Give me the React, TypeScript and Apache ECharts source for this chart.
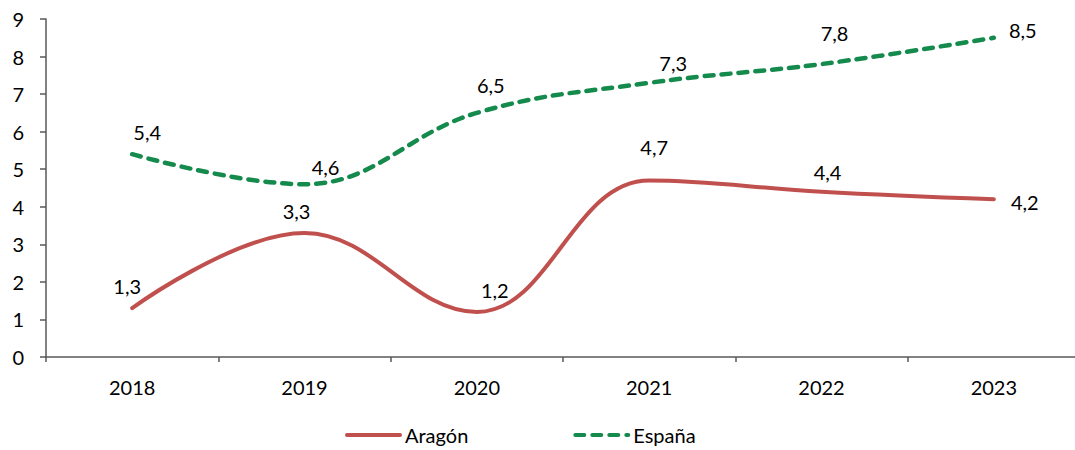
import React, { useEffect, useRef } from "react";
import * as echarts from "echarts";

const years = ["2018", "2019", "2020", "2021", "2022", "2023"];
const aragon = [1.3, 3.3, 1.2, 4.7, 4.4, 4.2];
const espana = [5.4, 4.6, 6.5, 7.3, 7.8, 8.5];
const aragonLabelOffsets = [[-5, -22], [-8, -22], [18, -22], [5, -33], [6, -20], [31, 3]];
const espanaLabelOffsets = [[15, -22], [21, -17], [14, -28], [24, -20], [13, -31], [29, -8]];

const FONT = "Lato";
const fmt = (v: number) => v.toFixed(1).replace(".", ",");

export default function App() {
  const ref = useRef<HTMLDivElement>(null);
  useEffect(() => {
    if (!ref.current) return;
    const chart = echarts.init(ref.current, undefined, { renderer: "svg" });
    const mk = (vals: number[], offs: number[][]) =>
      vals.map((v, i) => ({
        value: v,
        label: { offset: offs[i] },
      }));
    chart.setOption({
      animation: false,
      grid: { left: 46, right: 0, top: 19, bottom: 93 },
      legend: {
        left: 340,
        top: 420,
        itemWidth: 53,
        itemHeight: 22,
        itemGap: 105,
        textStyle: { fontFamily: FONT, fontSize: 20, color: "#000" },
        itemStyle: { opacity: 0 },
        lineStyle: { width: 4 },
        data: ["Aragón", "España"],
      },
      xAxis: {
        type: "category",
        data: years,
        boundaryGap: true,
        axisLine: { lineStyle: { color: "#595959", width: 1.5 } },
        axisTick: { show: true, length: 5, interval: 0, lineStyle: { color: "#595959", width: 1.5 } },
        axisLabel: { fontFamily: FONT, fontSize: 20, color: "#000", margin: 20 },
        splitLine: { show: false },
      },
      yAxis: {
        type: "value",
        min: 0,
        max: 9,
        interval: 1,
        axisLine: { show: true, lineStyle: { color: "#595959", width: 1.5 } },
        axisTick: { show: true, length: 6, lineStyle: { color: "#595959", width: 1.5 } },
        axisLabel: { fontFamily: FONT, fontSize: 20, color: "#000", margin: 22 },
        splitLine: { show: false },
      },
      series: [
        {
          name: "Aragón",
          type: "line",
          data: mk(aragon, aragonLabelOffsets),
          smooth: 0.4,
          symbol: "circle",
          symbolSize: 0,
          showSymbol: true,
          lineStyle: { color: "#C0504D", width: 4, cap: "round" },
          itemStyle: { color: "#C0504D" },
          label: {
            show: true,
            position: "inside",
            formatter: (p: any) => fmt(p.value),
            fontFamily: FONT,
            fontSize: 20,
            color: "#000",
          },
        },
        {
          name: "España",
          type: "line",
          data: mk(espana, espanaLabelOffsets),
          smooth: 0.4,
          symbol: "circle",
          symbolSize: 0,
          showSymbol: true,
          lineStyle: { color: "#148A4C", width: 4.5, type: [9, 8], cap: "round" },
          itemStyle: { color: "#148A4C" },
          label: {
            show: true,
            position: "inside",
            formatter: (p: any) => fmt(p.value),
            fontFamily: FONT,
            fontSize: 20,
            color: "#000",
          },
        },
      ],
    });
    return () => chart.dispose();
  }, []);
  return (
    <div style={{ position: "absolute", left: 0, top: 0, width: 1075, height: 450, overflow: "hidden", background: "#fff" }}>
      <div ref={ref} style={{ width: 1080, height: 450 }} />
    </div>
  );
}
